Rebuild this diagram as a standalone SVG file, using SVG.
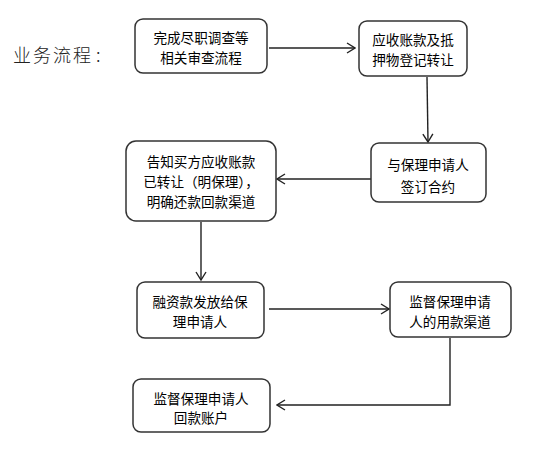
<svg xmlns="http://www.w3.org/2000/svg" width="533" height="463" viewBox="0 0 533 463">
<style>
.box{fill:#fff;stroke:#333;stroke-width:1.5}
.t{font-family:"Noto Sans CJK SC","Noto Sans CJK JP",sans-serif;font-size:13.6px;fill:#000;text-anchor:middle}
.title{font-family:"Noto Sans CJK SC",serif;font-size:18px;font-weight:300;fill:#222;letter-spacing:2px}
.c{fill:none;stroke:#222;stroke-width:1.4}
</style>
<defs>
<marker id="a" viewBox="0 0 10 12" refX="9" refY="6" markerWidth="10" markerHeight="12" markerUnits="userSpaceOnUse" orient="auto">
<polyline points="1,1 9,6 1,11" fill="none" stroke="#222" stroke-width="1.4"/>
</marker>
</defs>
<rect width="533" height="463" fill="#fff"/>
<text class="title" x="13" y="62">业务流程<tspan dx="3">:</tspan></text>
<g id="connectors">
<line class="c" x1="269" y1="48" x2="355" y2="48" marker-end="url(#a)"/>
<line class="c" x1="427" y1="77" x2="428" y2="142" marker-end="url(#a)"/>
<line class="c" x1="371" y1="179" x2="277" y2="179" marker-end="url(#a)"/>
<line class="c" x1="201" y1="222" x2="201" y2="280" marker-end="url(#a)"/>
<line class="c" x1="269" y1="309" x2="389" y2="309" marker-end="url(#a)"/>
<polyline class="c" points="450,338 450,405 277,405" marker-end="url(#a)"/>
</g>
<g id="n1">
<rect class="box" x="135" y="19" width="132" height="54" rx="8"/>
<text class="t" x="201" y="43">完成尽职调查等</text>
<text class="t" x="201" y="63">相关审查流程</text>
</g>
<g id="n2">
<rect class="box" x="359" y="21" width="108" height="55" rx="8"/>
<text class="t" x="413" y="45">应收账款及抵</text>
<text class="t" x="413" y="65">押物登记转让</text>
</g>
<g id="n3">
<rect class="box" x="371" y="143" width="115" height="59" rx="8"/>
<text class="t" x="428" y="170">与保理申请人</text>
<text class="t" x="428" y="192">签订合约</text>
</g>
<g id="n4">
<rect class="box" x="126" y="141" width="150" height="80" rx="10"/>
<text class="t" x="201" y="167">告知买方应收账款</text>
<text class="t" x="201" y="187">已转让（明保理），</text>
<text class="t" x="201" y="207">明确还款回款渠道</text>
</g>
<g id="n5">
<rect class="box" x="137" y="282" width="127" height="56" rx="8"/>
<text class="t" x="200" y="307">融资款发放给保</text>
<text class="t" x="200" y="327">理申请人</text>
</g>
<g id="n6">
<rect class="box" x="390" y="282" width="121" height="55" rx="8"/>
<text class="t" x="450" y="307">监督保理申请</text>
<text class="t" x="450" y="327">人的用款渠道</text>
</g>
<g id="n7">
<rect class="box" x="133" y="379" width="137" height="53" rx="8"/>
<text class="t" x="201" y="404">监督保理申请人</text>
<text class="t" x="201" y="423">回款账户</text>
</g>
</svg>
